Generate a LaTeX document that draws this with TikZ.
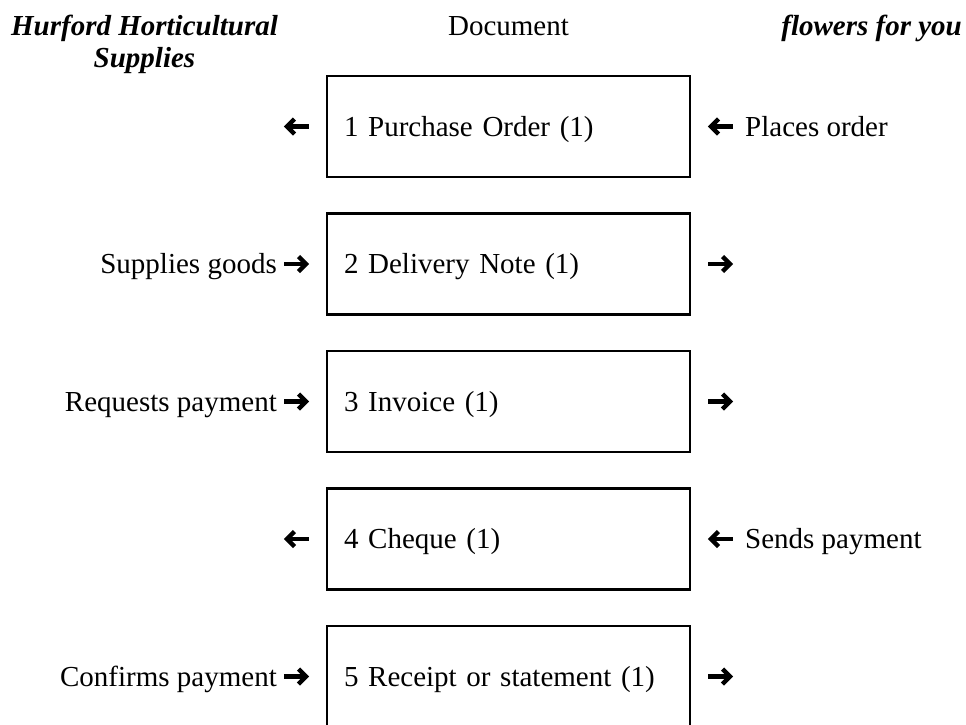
\documentclass[tikz,border=0pt]{standalone}
\usepackage{fontspec}
\setmainfont{Liberation Serif}
\begin{document}
\begin{tikzpicture}[x=1pt,y=-1pt,
  docbox/.style={draw, line width=2.5pt, minimum width=363pt, minimum height=101pt,
    inner xsep=17pt, text width=329pt, align=left, text height=19.2pt, text depth=0pt,
    font=\fontsize{29}{33}\selectfont},
  lbl/.style={inner sep=0pt, font=\fontsize{29}{33}\selectfont},
  hdr/.style={inner sep=0pt, font=\fontsize{29}{33}\selectfont\bfseries\itshape},
  rarrow/.pic={
    \fill (0,-2.3) rectangle (20,2.3);
    \draw[line width=4.4pt, line join=miter, miter limit=10] (14.5,-7.5) -- (22,0) -- (14.5,7.5);
  }]
\useasboundingbox (0,0) rectangle (966,724);

% headers
\node[hdr, anchor=base] (h1) at (144.5,35) {Hurford Horticultural};
\node[hdr, anchor=base] (h1b) at (144.5,67) {Supplies};
\node[lbl, anchor=base] (h2) at (508.5,35) {Document};
\node[hdr, anchor=base east] (h3) at (962,35) {flowers for you};

% document boxes
\node[docbox] (b1) at (508.5,126.5) {1 Purchase Order (1)};
\node[docbox] (b2) at (508.5,264) {2 Delivery Note (1)};
\node[docbox] (b3) at (508.5,401.5) {3 Invoice (1)};
\node[docbox] (b4) at (508.5,539) {4 Cheque (1)};
\node[docbox] (b5) at (508.5,676.5) {5 Receipt or statement (1)};

% row 1
\pic[xscale=-1] at (309,126.5) {rarrow};
\pic[xscale=-1] at (733,126.5) {rarrow};
\node[lbl, anchor=base west] (r1) at (745,136.1) {Places order};

% row 2
\node[lbl, anchor=base east] (l2) at (277,273.6) {Supplies goods};
\pic at (284,264) {rarrow};
\pic at (708,264) {rarrow};

% row 3
\node[lbl, anchor=base east] (l3) at (277,411.1) {Requests payment};
\pic at (284,401.5) {rarrow};
\pic at (708,401.5) {rarrow};

% row 4
\pic[xscale=-1] at (309,539) {rarrow};
\pic[xscale=-1] at (733,539) {rarrow};
\node[lbl, anchor=base west] (r4) at (745,548.6) {Sends payment};

% row 5
\node[lbl, anchor=base east] (l5) at (277,686.1) {Confirms payment};
\pic at (284,676.5) {rarrow};
\pic at (708,676.5) {rarrow};
\end{tikzpicture}
\end{document}
